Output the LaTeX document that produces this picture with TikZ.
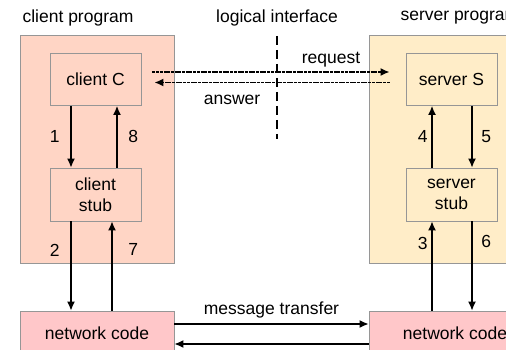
\documentclass[tikz,border=0pt]{standalone}
\usepackage{fontspec}
\setmainfont{Liberation Sans}
\usepackage{xcolor}
\usetikzlibrary{arrows.meta}
\definecolor{clientfill}{RGB}{255,213,197}
\definecolor{serverfill}{RGB}{255,237,200}
\definecolor{netfill}{RGB}{255,199,201}
\definecolor{boxline}{RGB}{150,150,150}

\begin{document}
\begin{tikzpicture}[x=1pt,y=-1pt,font=\fontsize{17.5}{21}\selectfont]
			\tikzstyle{program} = [draw=boxline, line width=0.8pt, minimum width=154pt, minimum height=228pt]
			\tikzstyle{part} = [draw=boxline, line width=0.8pt, minimum width=91pt, minimum height=52pt, align=center]
			\tikzstyle{netcode} = [draw=boxline, line width=0.8pt, fill=netfill, minimum width=154pt, minimum height=44pt]
			\tikzset{edge/.style = {line width=1.3pt, -{Latex[length=9pt,width=8pt]}}}
			\tikzset{call/.style = {edge, line width=1.7pt, dash pattern=on 3pt off 0.7pt}}
			\tikzset{interface/.style = {line width=2.7pt, dash pattern=on 9pt off 5pt}}
			
			\path[use as bounding box, clip] (0,0) rectangle (506,350);
			
			\node(clienttitle) at (78,18) {client program};
			\node(interfacetitle) at (277,18) {logical interface};
			\node[anchor=west](servertitle) at (397,18) {server program};
			
			\node[program, fill=clientfill](clientprog) at (97,149) {};
			\node[program, fill=serverfill, minimum width=172pt](serverprog) at (455,149) {};
			
			\node[part, fill=clientfill](clientC) at (95.5,79.5) {client C};
			\node[part, fill=clientfill, minimum height=53pt](clientstub) at (95.5,194.5) {client\\stub};
			\node[part, fill=serverfill](serverS) at (451.5,79.5) {server S};
			\node[part, fill=serverfill, minimum height=53pt](serverstub) at (451.5,194.5) {server\\stub};
			
			\node[netcode](netclient) at (97,333) {network code};
			\node[netcode, minimum width=172pt](netserver) at (455,333) {network code};
			
			% client side
			\draw[edge]([xshift=-24.5pt]clientC.south) -- node[left=7.5pt]{1} ([xshift=-24.5pt]clientstub.north);
			\draw[edge]([xshift=21.5pt]clientstub.north) -- node[right=7.5pt]{8} ([xshift=21.5pt]clientC.south);
			\draw[edge]([xshift=-24.5pt]clientstub.south) -- node[left=7.5pt, pos=.32]{2} ([xshift=-24.5pt]clientstub.south |- netclient.north);
			\draw[edge]([xshift=16.5pt]clientstub.south |- netclient.north) -- node[right=12.5pt, pos=.68]{7} ([xshift=16.5pt]clientstub.south);
			
			% server side
			\draw[edge]([xshift=-19.5pt]serverstub.north) -- node[left=0.5pt]{4} ([xshift=-19.5pt]serverS.south);
			\draw[edge]([xshift=20.5pt]serverS.south) -- node[right=5.5pt]{5} ([xshift=20.5pt]serverstub.north);
			\draw[edge]([xshift=-19.5pt]serverstub.south |- netserver.north) -- node[left=0.5pt, pos=.75]{3} ([xshift=-19.5pt]serverstub.south);
			\draw[edge]([xshift=20.5pt]serverstub.south) -- node[right=5.5pt, pos=.23]{6} ([xshift=20.5pt]serverstub.south |- netserver.north);
			
			% logical interface
			\coordinate(ifacetop) at (277,36);
			\coordinate(ifacebottom) at (277,139);
			\draw[interface](ifacetop) -- (ifacebottom);
			\draw[call]([xshift=11pt,yshift=7.5pt]clientC.east) -- ([xshift=-16pt,yshift=7.5pt]serverS.west);
			\draw[call]([xshift=-16pt,yshift=-3pt]serverS.west) -- ([xshift=13pt,yshift=-3pt]clientC.east);
			\node(request) at (331,60) {request};
			\node(answer) at (232,100) {answer};
			
			% message transfer
			\draw[edge]([yshift=9pt]netclient.east) -- ([yshift=9pt]netserver.west);
			\draw[edge]([yshift=-11pt]netserver.west) -- ([yshift=-11pt]netclient.east);
			\node(message) at (271.5,310) {message transfer};
			
			\end{tikzpicture}
\end{document}
